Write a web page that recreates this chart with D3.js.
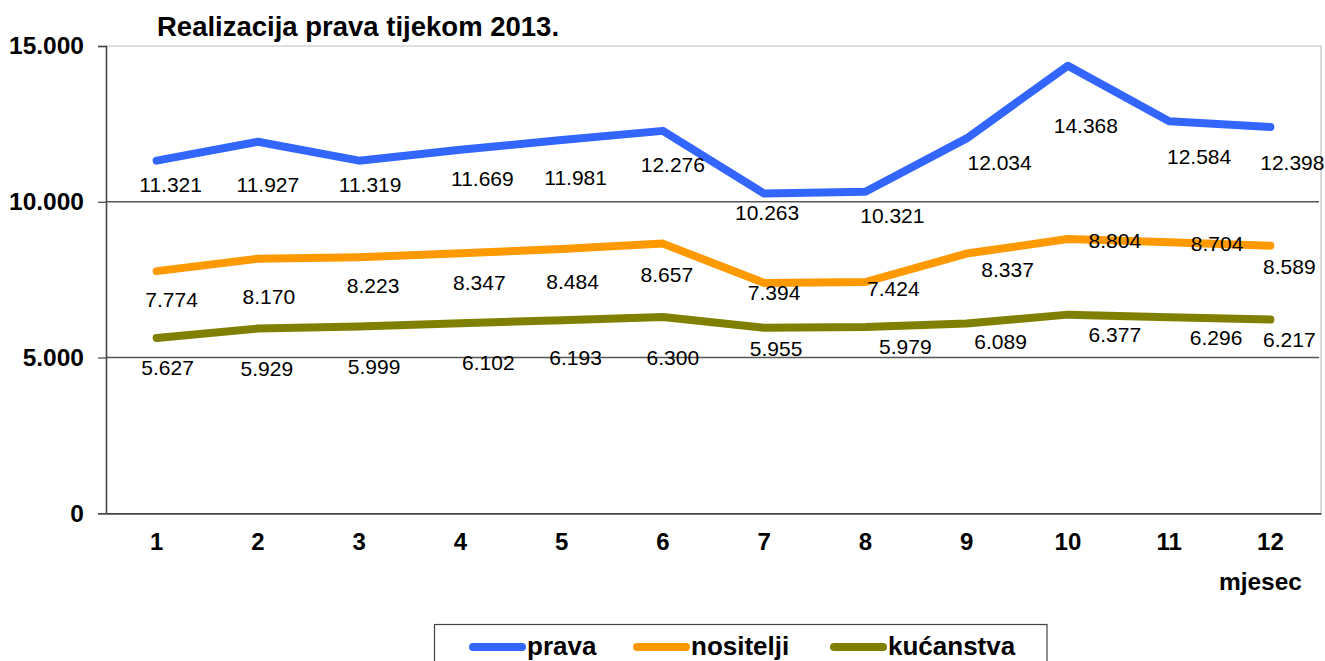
<!DOCTYPE html>
<html>
<head>
<meta charset="utf-8">
<script src="https://cdn.jsdelivr.net/npm/d3@7"></script>
<style>
  html, body { margin: 0; padding: 0; background: #fff; }
  svg { display: block; font-family: "Liberation Sans", Arial, sans-serif; }
</style>
</head>
<body>
<div id="chart"></div>
<script>
// podaci
const months = [1, 2, 3, 4, 5, 6, 7, 8, 9, 10, 11, 12];
const prava = [11321, 11927, 11319, 11669, 11981, 12276, 10263, 10321, 12034, 14368, 12584, 12398];
const nositelji = [7774, 8170, 8223, 8347, 8484, 8657, 7394, 7424, 8337, 8804, 8704, 8589];
const kucanstva = [5627, 5929, 5999, 6102, 6193, 6300, 5955, 5979, 6089, 6377, 6296, 6217];
const yTicks = [0, 5000, 10000, 15000];
const seriesNames = ['prava', 'nositelji', 'kućanstva'];

// pomak oznaka (u pikselima) od točke, kao u Excelu
const labelNudge = [
  [[14, 24], [10, 43], [11, 24], [22, 29], [14, 37], [10, 34], [3, 19], [27, 24], [33, 24], [18, 60], [30, 35], [22, 35]],
  [[15, 28], [11, 38], [14, 28], [19, 29], [11, 33], [4, 31], [10, 10], [28, 6], [41, 16], [47, 1], [48, 1], [19, 21]],
  [[11, 29], [9, 40], [15, 40], [28, 39], [14, 37], [10, 40], [12, 21], [40, 19], [34, 18], [47, 20], [47, 20], [19, 20]]
];
const colors = ['#3366ff', '#ff9900', '#808000'];

const W = 1325, H = 661;
const plotL = 106, plotR = 1321, plotT = 46, plotB = 513.3;

const svg = d3.select('#chart')
  .append('svg')
  .attr('width', W)
  .attr('height', H);

const x = d3.scaleBand()
  .domain(months)
  .range([plotL, plotR]);

const y = d3.scaleLinear()
  .domain([0, 15000])
  .range([plotB, plotT]);

const fmt = d3.formatLocale({ decimal: ',', thousands: '.', grouping: [3], currency: ['', ''] }).format(',d');

// okvir (gornja i desna strana svijetlo siva)
svg.append('path')
  .attr('d', `M${plotL},${plotT}H${plotR}V${plotB}`)
  .attr('fill', 'none')
  .attr('stroke', '#c0c0c0')
  .attr('stroke-width', 1.2);

// mreža
svg.selectAll('line.grid')
  .data(yTicks.filter(d => d > 0 && d < 15000))
  .join('line')
  .attr('class', 'grid')
  .attr('x1', plotL)
  .attr('x2', plotR - 2)
  .attr('y1', d => y(d))
  .attr('y2', d => y(d))
  .attr('stroke', '#555')
  .attr('stroke-width', 1.6);

// y os
const yAxis = svg.append('g')
  .attr('transform', `translate(${plotL},0)`)
  .call(d3.axisLeft(y).tickValues(yTicks).tickSize(8).tickPadding(14).tickFormat(fmt));
yAxis.select('.domain').attr('stroke', '#444').attr('stroke-width', 1.6);
yAxis.selectAll('.tick line').attr('stroke', '#444').attr('stroke-width', 1.2);
yAxis.selectAll('.tick text')
  .attr('font-size', 24.5)
  .attr('font-weight', 'bold')
  .attr('fill', '#000')
  .attr('font-family', '"Liberation Sans", Arial, sans-serif');

// x os
const xAxis = svg.append('g')
  .attr('transform', `translate(0,${plotB})`)
  .call(d3.axisBottom(x).tickSize(0).tickPadding(20));
xAxis.select('.domain').attr('stroke', '#444').attr('stroke-width', 1.8);
xAxis.selectAll('.tick text')
  .attr('font-size', 24)
  .attr('font-weight', 'bold')
  .attr('fill', '#000')
  .attr('font-family', '"Liberation Sans", Arial, sans-serif');

svg.append('text')
  .attr('x', 1302)
  .attr('y', 590)
  .attr('text-anchor', 'end')
  .attr('font-size', 24.5)
  .attr('font-weight', 'bold')
  .text('mjesec');

// naslov
svg.append('text')
  .attr('x', 157)
  .attr('y', 36)
  .attr('font-size', 27.5)
  .attr('font-weight', 'bold')
  .text('Realizacija prava tijekom 2013.');

// linije
const allSeries = [prava, nositelji, kucanstva];
const cx = m => x(m) + x.bandwidth() / 2;

const line = d3.line()
  .x((d, i) => cx(months[i]))
  .y(d => y(d));

allSeries.forEach((vals, s) => {
  svg.append('path')
    .datum(vals)
    .attr('fill', 'none')
    .attr('stroke', colors[s])
    .attr('stroke-width', 8)
    .attr('stroke-linejoin', 'round')
    .attr('stroke-linecap', 'round')
    .attr('d', line);
});

// oznake vrijednosti
allSeries.forEach((vals, s) => {
  svg.append('g')
    .selectAll('text')
    .data(vals)
    .join('text')
    .attr('x', (d, i) => cx(months[i]) + labelNudge[s][i][0])
    .attr('y', (d, i) => y(d) + labelNudge[s][i][1])
    .attr('text-anchor', 'middle')
    .attr('dominant-baseline', 'central')
    .attr('font-size', 21)
    .attr('fill', '#000')
    .text(d => fmt(d));
});

// legenda
const legend = svg.append('g');
legend.append('rect')
  .attr('x', 434.5)
  .attr('y', 624.5)
  .attr('width', 612.5)
  .attr('height', 60)
  .attr('fill', '#fff')
  .attr('stroke', '#444')
  .attr('stroke-width', 1.2);

const legendX = [469, 633, 830];
seriesNames.forEach((name, s) => {
  legend.append('line')
    .attr('x1', legendX[s] + 4)
    .attr('x2', legendX[s] + 53)
    .attr('y1', 647)
    .attr('y2', 647)
    .attr('stroke', colors[s])
    .attr('stroke-width', 8)
    .attr('stroke-linecap', 'round');
  legend.append('text')
    .attr('x', legendX[s] + 58)
    .attr('y', 646)
    .attr('dominant-baseline', 'central')
    .attr('font-size', 26)
    .attr('font-weight', 'bold')
    .text(name);
});
</script>
</body>
</html>
